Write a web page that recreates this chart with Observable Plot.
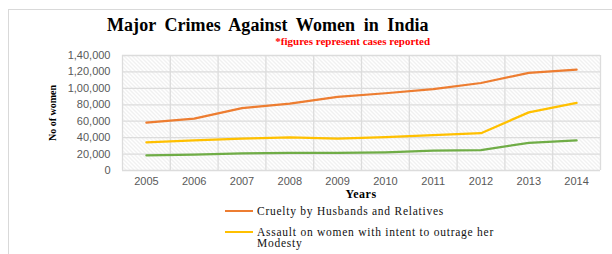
<!DOCTYPE html>
<html><head><meta charset="utf-8">
<script src="https://cdn.jsdelivr.net/npm/d3@7"></script>
<script src="https://cdn.jsdelivr.net/npm/@observablehq/plot@0.6"></script>
<style>
body{margin:0;background:#fff;}
#wrap{position:relative;width:612px;height:254px;overflow:hidden;font-family:"Liberation Serif","Times New Roman",serif;}
#frame{position:absolute;left:8px;top:9px;width:700px;height:300px;border-top:1.5px solid #d9d9d9;border-left:1.5px solid #d9d9d9;}
#chart{position:absolute;left:0;top:0;}
#title{position:absolute;left:107px;top:17px;font-size:18px;line-height:16px;font-weight:bold;white-space:nowrap;word-spacing:4px;letter-spacing:0.05px;color:#000;}
#subtitle{position:absolute;right:182px;top:36px;font-size:11px;line-height:10px;font-weight:bold;color:#ff0000;white-space:nowrap;}
#ylab{position:absolute;left:52px;top:113px;transform:translate(-50%,-50%) rotate(-90deg);font-size:10px;font-weight:bold;white-space:nowrap;color:#000;}
#xlab{position:absolute;left:361px;top:194px;transform:translate(-50%,-50%);font-size:12px;font-weight:bold;letter-spacing:0.5px;white-space:nowrap;color:#000;}
.lg{position:absolute;left:225px;width:28px;height:2px;}
.lt{position:absolute;left:257px;font-size:11.5px;line-height:10.5px;letter-spacing:0.75px;white-space:nowrap;color:#111;}
</style>
</head><body>
<div id="wrap">
  <div id="frame"></div>
  <div id="chart"></div>
  <div id="title">Major Crimes Against Women in India</div>
  <div id="subtitle">*figures represent cases reported</div>
  <div id="ylab">No of women</div>
  <div id="xlab">Years</div>
  <div class="lg" style="top:210px;background:#ED7D31"></div>
  <div class="lt" style="top:206px">Cruelty by Husbands and Relatives</div>
  <div class="lg" style="top:231px;background:#FFC000"></div>
  <div class="lt" style="top:227px">Assault on women with intent to outrage her<br>Modesty</div>
</div>
<script>
const years = [2005, 2006, 2007, 2008, 2009, 2010, 2011, 2012, 2013, 2014];
const cruelty = [58319, 63128, 75930, 81344, 89546, 94041, 99135, 106527, 118866, 122877];
const assault = [34175, 36617, 38734, 40413, 38711, 40613, 42968, 45351, 70739, 82235];
const rape = [18359, 19348, 20737, 21467, 21397, 22172, 24206, 24923, 33707, 36735];
const yTicks = [0, 20000, 40000, 60000, 80000, 100000, 120000, 140000];
const yTickLabels = ["0", "20,000", "40,000", "60,000", "80,000", "1,00,000", "1,20,000", "1,40,000"];
const seriesNames = ["Cruelty by Husbands and Relatives", "Assault on women with intent to outrage her Modesty", "Rape"];
const colors = ["#ED7D31", "#FFC000", "#70AD47"];

const rows = [];
[cruelty, assault, rape].forEach((vals, s) => {
  vals.forEach((v, i) => rows.push({year: years[i], value: v, series: seriesNames[s]}));
});
const bounds = years.map(y => y - 0.5).concat([years[years.length - 1] + 0.5]);
const labelOf = new Map(yTicks.map((t, i) => [t, yTickLabels[i]]));

const chart = Plot.plot({
  width: 612,
  height: 254,
  marginTop: 55,
  marginBottom: 84,
  marginLeft: 122,
  marginRight: 12,
  style: {fontFamily: "'Liberation Sans', Arial, sans-serif", fontSize: "11px", background: "transparent"},
  x: {type: "linear", domain: [bounds[0], bounds[bounds.length - 1]]},
  y: {domain: [0, 140000]},
  color: {domain: seriesNames, range: colors},
  marks: [
    Plot.frame({fill: "url(#hatch)", stroke: "none"}),
    Plot.ruleY(yTicks, {stroke: "#dcdcdc", strokeWidth: 1.3}),
    Plot.ruleX(bounds, {stroke: "#dcdcdc", strokeWidth: 1.3}),
    Plot.lineY(rows, {x: "year", y: "value", z: "series", stroke: "series", strokeWidth: 2.25, strokeLinejoin: "round"}),
    Plot.axisY(yTicks, {tickFormat: d => labelOf.get(d), tickSize: 0, tickPadding: 12, label: null, fill: "#595959"}),
    Plot.axisX(years, {tickFormat: d => String(d), tickSize: 0, tickPadding: 7, label: null, fill: "#595959"})
  ]
});
d3.select(chart).insert("defs", ":first-child").html(
  '<pattern id="hatch" patternUnits="userSpaceOnUse" width="4" height="4">' +
  '<rect width="4" height="4" fill="#ffffff"/>' +
  '<path d="M-1,-1 L5,5 M3,-1 L5,1 M-1,3 L1,5" stroke="#e3e3e3" stroke-width="1"/>' +
  '</pattern>'
);
document.getElementById("chart").appendChild(chart);
</script>
</body></html>
